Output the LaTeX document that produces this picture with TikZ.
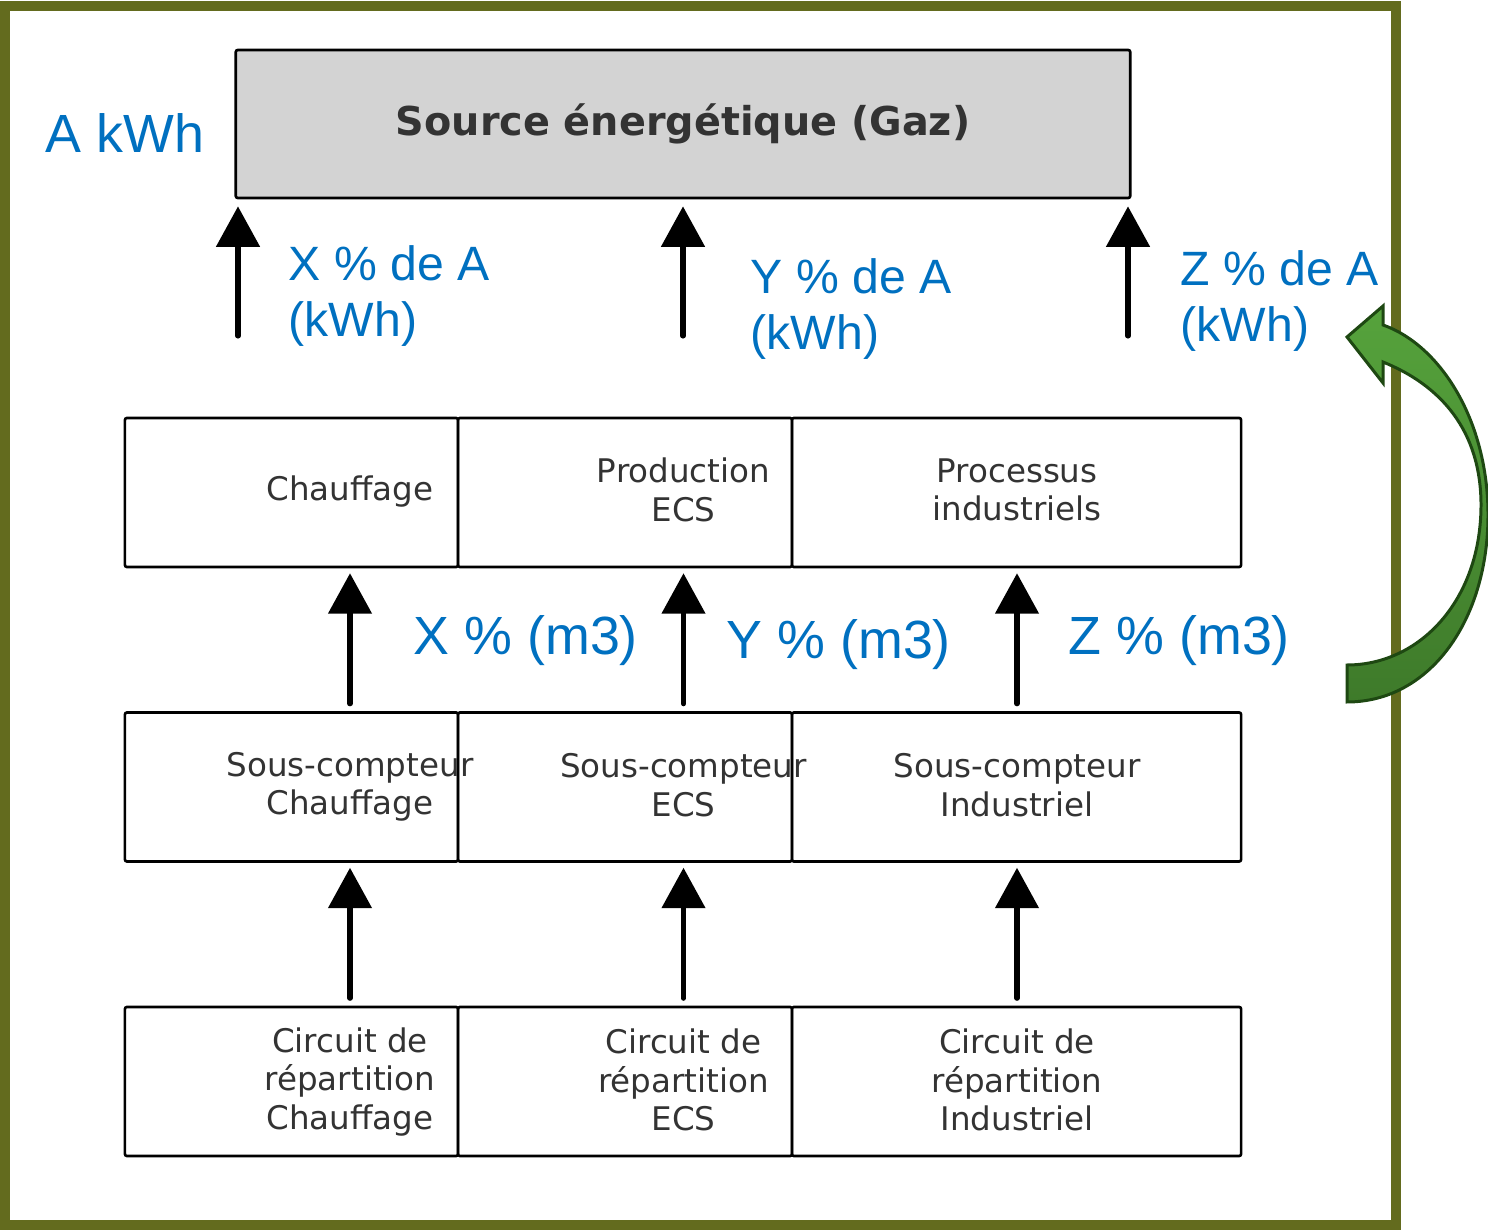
\documentclass[tikz,border=0pt]{standalone}
\usepackage{fontspec}
\setmainfont{DejaVu Sans}
\newfontfamily\lblfont{Liberation Sans}
\usepackage{tikz}
\usetikzlibrary{arrows.meta,positioning}
\definecolor{frameOlive}{RGB}{99,107,30}
\definecolor{lblBlue}{RGB}{0,112,192}
\definecolor{txtGray}{RGB}{51,51,51}
\definecolor{srcGray}{RGB}{211,211,211}
\definecolor{arrTop}{RGB}{86,163,60}
\definecolor{arrBot}{RGB}{62,122,42}
\definecolor{arrLine}{RGB}{30,72,18}

\begin{document}
\begin{tikzpicture}[x=0.01cm,y=-0.01cm,>={Triangle[length=11.5pt,width=12.2pt]},
cell/.style={
draw=black,
rectangle,
rounded corners=0.6pt,
line width=0.75pt,
minimum height=1.49cm,
inner sep=0pt,
},
celltext/.style={align=center,inner sep=0pt,text=txtGray,font=\fontsize{9.25}{10.9}\selectfont},
pctlabel/.style={align=left,inner sep=0pt,text=lblBlue,font=\lblfont\fontsize{13.7}{16}\selectfont},
m3label/.style={inner sep=0pt,text=lblBlue,font=\lblfont\fontsize{15.3}{18}\selectfont},
flow/.style={->,line width=1.45pt,line cap=round}
]
\useasboundingbox (0,0) rectangle (1488,1231);
\draw[frameOlive,line width=2.85pt] (5,6) rectangle (1396,1225);

\node[cell,fill=srcGray,minimum width=8.94cm,minimum height=1.48cm,text=txtGray,font=\bfseries\fontsize{11.3}{13}\selectfont] (source) at (683,124) {Source énergétique (Gaz)};
\node[m3label,anchor=base west] (akwh) at (45,153) {A kWh};

\foreach \n/\x/\w in {Chauffage/291.5/3.33, ECS/625/3.34, Ind/1016.5/4.49}
  \foreach \r/\y in {proc/492.5, sc/787, circ/1081.5}
    \node[cell,minimum width=\w cm] (\r\n) at (\x,\y) {};

\node[celltext] (tChauffage) at (350,492) {Chauffage};
\node[celltext] (tECS) at (683.5,490) {Production\\ECS};
\node[celltext] (tInd) at (1017,490) {Processus\\industriels};
\node[celltext] (tScChauffage) at (350,787) {Sous-compteur\\Chauffage};
\node[celltext] (tScECS) at (683.5,785) {Sous-compteur\\ECS};
\node[celltext] (tScInd) at (1017,785) {Sous-compteur\\Industriel};
\node[celltext] (tCircChauffage) at (350,1082) {Circuit de\\répartition\\Chauffage};
\node[celltext] (tCircECS) at (683.5,1080) {Circuit de\\répartition\\ECS};
\node[celltext] (tCircInd) at (1017,1080) {Circuit de\\répartition\\Industriel};

\coordinate (pX) at (238,336);
\coordinate (pY) at (683,336);
\coordinate (pZ) at (1128,336);
\foreach \c in {pX,pY,pZ}
  \draw[flow,shorten >=2pt] (\c) -- (source.south -| \c);

\foreach \n in {Chauffage,ECS,Ind}
{
  \draw[flow,shorten <=2.1pt,shorten >=1.4pt] (sc\n.north -| t\n) -- (proc\n.south -| t\n);
  \draw[flow,shorten <=2.1pt,shorten >=1.4pt] (circ\n.north -| t\n) -- (sc\n.south -| t\n);
}

\node[pctlabel,anchor=north west] (pctX) at (288,245) {X \% de A\\(kWh)};
\node[pctlabel,anchor=north west] (pctY) at (750,258) {Y \% de A\\(kWh)};
\node[pctlabel,anchor=north west] (pctZ) at (1180,250) {Z \% de A\\(kWh)};
\node[m3label,anchor=base west] (m3X) at (413,655) {X \% (m3)};
\node[m3label,anchor=base west] (m3Y) at (726,659) {Y \% (m3)};
\node[m3label,anchor=base west] (m3Z) at (1068,655) {Z \% (m3)};

\draw[arrLine,line width=0.85pt,top color=arrTop,bottom color=arrBot] (1347,337) -- (1383,306) -- (1383,325)
  .. controls (1440,345) and (1488,420) .. (1488,515)
  .. controls (1488,620) and (1430,702) .. (1347,702) -- (1347,665)
  .. controls (1420,665) and (1481,600) .. (1481,505)
  .. controls (1481,430) and (1440,385) .. (1383,362) -- (1383,383) -- cycle;
\end{tikzpicture}
\end{document}
